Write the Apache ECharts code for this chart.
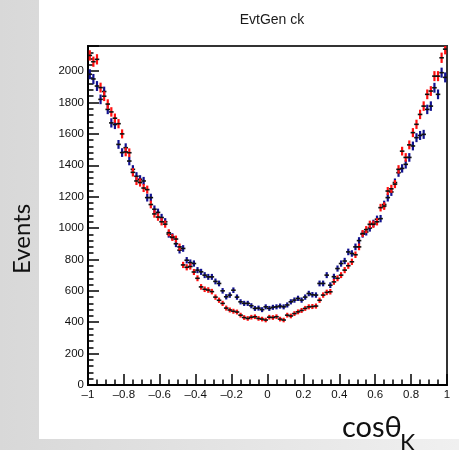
<!DOCTYPE html>
<html>
<head>
<meta charset="utf-8">
<script src="https://cdn.jsdelivr.net/npm/echarts@6/dist/echarts.min.js"></script>
<style>
  html, body { margin: 0; padding: 0; }
  body { width: 459px; height: 450px; background: linear-gradient(to right, #d8d8d8, #f0f0f0); position: relative; overflow: hidden; }
  .panel { position: absolute; left: 39px; top: 0; width: 420px; height: 439px; background: #fff; }
  #ck { position: absolute; left: 0; top: 0; width: 459px; height: 450px; }
</style>
</head>
<body>
<div class="panel"></div>
<div id="ck"></div>
<script>
// 100 bins over cos(theta_K) in [-1, 1]
const binLo = -1;
const binWidth = 0.02;

const redCounts = [
  2100, 2060, 2075, 1895, 1840, 1790, 1740, 1700, 1665, 1600,
  1485, 1480, 1355, 1300, 1290, 1255, 1245, 1150, 1090, 1070,
  1040, 1025, 970, 940, 930, 880, 765, 750, 755, 720,
  680, 625, 610, 605, 595, 560, 540, 520, 490, 478,
  470, 465, 445, 430, 424, 432, 435, 424, 420, 414,
  432, 430, 435, 420, 414, 445, 440, 455, 466, 475,
  488, 498, 500, 503, 540, 573, 590, 594, 657, 680,
  700, 732, 760, 785, 830, 880, 965, 990, 1024, 1024,
  1040, 1130, 1140, 1236, 1250, 1280, 1374, 1490, 1450, 1530,
  1608, 1661, 1724, 1777, 1852, 1873, 1968, 1968, 2085, 2140
];

const blueCounts = [
  1980, 1950, 1905, 1820, 1870, 1756, 1670, 1660, 1533, 1481,
  1512, 1427, 1374, 1330, 1311, 1300, 1194, 1194, 1120, 1100,
  1067, 1040, 961, 945, 900, 859, 870, 795, 780, 774,
  732, 721, 700, 689, 689, 660, 647, 600, 562, 573,
  604, 560, 530, 520, 520, 505, 488, 490, 480, 498,
  488, 495, 498, 503, 498, 510, 530, 541, 552, 541,
  560, 583, 575, 573, 647, 647, 700, 636, 690, 742,
  774, 790, 848, 838, 880, 920, 961, 975, 1000, 1030,
  1056, 1060, 1150, 1194, 1230, 1290, 1353, 1380, 1406, 1450,
  1523, 1576, 1590, 1597, 1756, 1777, 1894, 1852, 1990, 1960
];

const errScale = 0.72;

function errorBars(name, counts, color) {
  return {
    name: name,
    type: 'custom',
    clip: true,
    data: counts.map((v, i) => [binLo + binWidth * (i + 0.5), v]),
    renderItem: (params, api) => {
      const x = api.value(0);
      const y = api.value(1);
      const e = errScale * Math.sqrt(y);
      const l = api.coord([x - binWidth / 2, y]);
      const r = api.coord([x + binWidth / 2, y]);
      const t = api.coord([x, y + e]);
      const b = api.coord([x, y - e]);
      return {
        type: 'group',
        children: [
          { type: 'line', shape: { x1: t[0], y1: t[1], x2: b[0], y2: b[1] }, style: { stroke: color, lineWidth: 2.2 } },
          { type: 'line', shape: { x1: l[0] - 0.5, y1: l[1], x2: r[0] + 0.5, y2: r[1] }, style: { stroke: '#111', lineWidth: 1.6 } }
        ]
      };
    }
  };
}

const fmtX = (v) => String(Math.round(v * 10) / 10).replace('-', '\u2013');

const option = {
  animation: false,
  title: {
    text: 'EvtGen ck',
    left: 267,
    top: 8,
    textAlign: 'center',
    textStyle: { fontFamily: 'Liberation Sans', fontSize: 14, fontWeight: 'normal', color: '#1a1a1a' }
  },
  grid: {
    left: 88, right: 12, top: 46, bottom: 65,
    show: true, borderColor: '#333', borderWidth: 2, backgroundColor: 'transparent'
  },
  xAxis: {
    type: 'value',
    min: -1, max: 1, interval: 0.2,
    axisLine: { show: true, onZero: false, lineStyle: { color: '#000', width: 2 } },
    axisTick: { show: true, inside: true, length: 11, lineStyle: { color: '#000', width: 1.5 } },
    minorTick: { show: true, splitNumber: 4, length: 5.5, lineStyle: { color: '#000', width: 1.5 } },
    splitLine: { show: false },
    axisLabel: {
      margin: 4,
      fontFamily: 'Liberation Sans', fontSize: 11.5, color: '#111',
      showMinLabel: true, showMaxLabel: true,
      formatter: fmtX
    }
  },
  yAxis: {
    type: 'value',
    min: 0, max: 2160, interval: 200,
    axisLine: { show: true, onZero: false, lineStyle: { color: '#000', width: 2 } },
    axisTick: { show: true, inside: true, length: 11, lineStyle: { color: '#000', width: 1.5 } },
    minorTick: { show: true, splitNumber: 5, length: 5.5, lineStyle: { color: '#000', width: 1.5 } },
    splitLine: { show: false },
    axisLabel: {
      margin: 4,
      fontFamily: 'Liberation Sans', fontSize: 11.5, color: '#111',
      showMaxLabel: false,
      formatter: (v) => String(v)
    }
  },
  graphic: [
    {
      type: 'text', x: 22, y: 239, rotation: Math.PI / 2,
      style: { text: 'Events', font: '24px Lato', fill: '#111', align: 'center', verticalAlign: 'middle' }
    },
    {
      type: 'text', x: 342, y: 428,
      style: { text: 'cos\u03b8', font: '29px Lato', fill: '#111', align: 'left', verticalAlign: 'middle' }
    },
    {
      type: 'text', x: 400, y: 444,
      style: { text: 'K', font: '23px Lato', fill: '#111', align: 'left', verticalAlign: 'middle' }
    }
  ],
  series: [
    errorBars('blue', blueCounts, '#11118f'),
    errorBars('red', redCounts, '#ff1010')
  ]
};

const chart = echarts.init(document.getElementById('ck'));
chart.setOption(option);
</script>
</body>
</html>
